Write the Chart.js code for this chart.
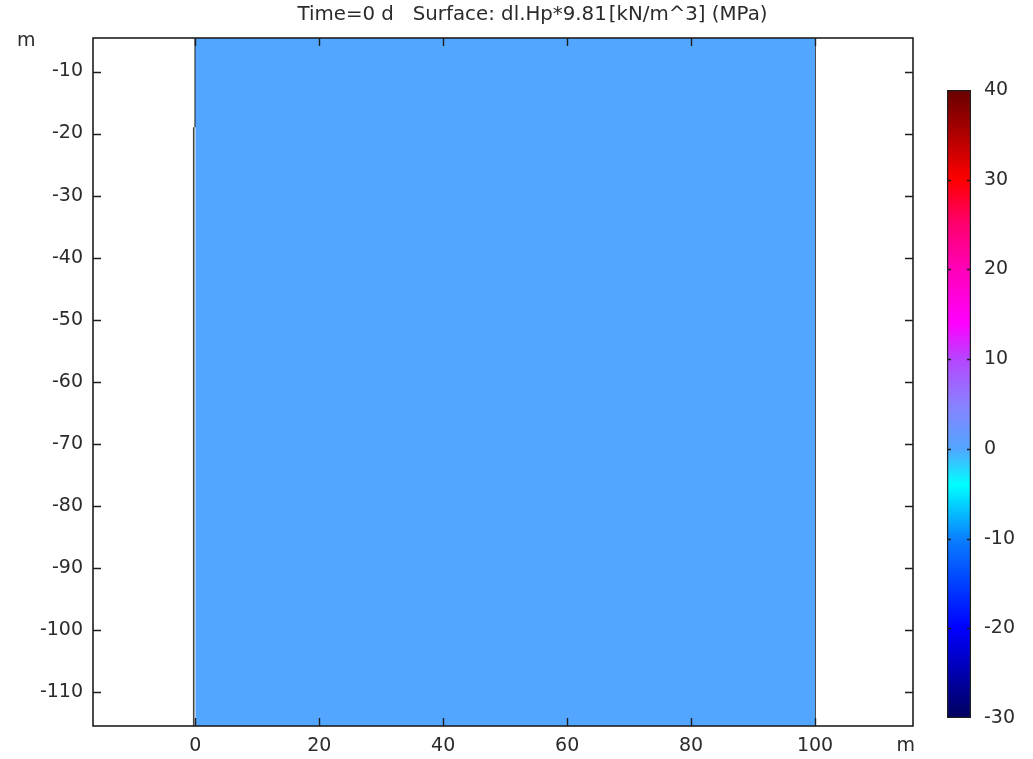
<!DOCTYPE html>
<html>
<head>
<meta charset="utf-8">
<script src="https://cdn.jsdelivr.net/npm/chart.js@4/dist/chart.umd.min.js"></script>
<style>
  html, body { margin: 0; padding: 0; background: #ffffff; }
  #wrap { position: relative; width: 1033px; height: 759px; }
  canvas { position: absolute; left: 0; top: 0; }
</style>
</head>
<body>
<div id="wrap">
  <canvas id="main" width="1033" height="759"></canvas>
  <canvas id="cbar" width="1033" height="759"></canvas>
</div>
<script>
// ---------- data ----------
const titleText = "Time=0 d   Surface: dl.Hp*9.81\u200a[kN/m^3] (MPa)";
const xTicks = [0, 20, 40, 60, 80, 100];
const yTicks = [-10, -20, -30, -40, -50, -60, -70, -80, -90, -100, -110];
const xView = [-16.5, 115.8];
const yView = [-115.5, -4.6];
const domainX = [0, 100];
const domainY = [0, -120];
const wallStepY = -19;
const wallLowerX = -0.25;
const fieldValue = 0;              // uniform surface value (MPa)
const cbarTicks = [-30, -20, -10, 0, 10, 20, 30, 40];
const cbarRange = [-30, 40];
const axisUnit = "m";

// ---------- colour table (style) ----------
const cmapValues = [-30, -20, -15, -10, -4, 0, 5, 10, 14, 20, 25, 30, 35, 40];
const cmapColors = ["#00005e", "#0000ff", "#0040ff", "#0a80ff", "#00ffff", "#52a6ff", "#8a80ff",
                    "#b545ff", "#ff00ff", "#ff00b8", "#ff0070", "#ff0000", "#b00000", "#680000"];

function hexToRgb(h) { return [1,3,5].map(i => parseInt(h.substr(i,2),16)); }
function colorAt(v) {
  if (v <= cmapValues[0]) return cmapColors[0];
  for (let i = 1; i < cmapValues.length; i++) {
    if (v <= cmapValues[i]) {
      const t = (v - cmapValues[i-1]) / (cmapValues[i] - cmapValues[i-1]);
      const a = hexToRgb(cmapColors[i-1]), b = hexToRgb(cmapColors[i]);
      const c = a.map((x, k) => Math.round(x + (b[k]-x)*t));
      return `rgb(${c[0]},${c[1]},${c[2]})`;
    }
  }
  return cmapColors[cmapColors.length-1];
}

const FONT = "'DejaVu Sans', sans-serif";
const TEXT = "#2b2b2b";
const FRAME = "#1e1e1e";
const TICKFS = 19;
const TITLEFS = 19.8;

// ---------- main plot ----------
const framePlugin = {
  id: 'frameTicks',
  afterDatasetsDraw(chart) {
    const { ctx, chartArea: a, scales: { x, y } } = chart;
    ctx.save();
    ctx.strokeStyle = FRAME;
    ctx.lineWidth = 1.6;
    ctx.strokeRect(a.left, a.top, a.right - a.left, a.bottom - a.top);
    ctx.lineWidth = 1.4;
    const L = 8;
    ctx.beginPath();
    xTicks.forEach(v => {
      const px = Math.round(x.getPixelForValue(v)) + 0.5;
      ctx.moveTo(px, a.bottom); ctx.lineTo(px, a.bottom - L);
      ctx.moveTo(px, a.top); ctx.lineTo(px, a.top + L);
    });
    yTicks.forEach(v => {
      const py = Math.round(y.getPixelForValue(v)) + 0.5;
      ctx.moveTo(a.left, py); ctx.lineTo(a.left + L, py);
      ctx.moveTo(a.right, py); ctx.lineTo(a.right - L, py);
    });
    ctx.stroke();
    // unit labels
    ctx.fillStyle = TEXT;
    ctx.font = `${TICKFS}px ${FONT}`;
    ctx.textBaseline = 'middle';
    ctx.textAlign = 'right';
    ctx.fillText(axisUnit, a.right + 2, a.bottom + 20);
    ctx.textAlign = 'left';
    ctx.fillText(axisUnit, 17, a.top + 3);
    // title (centred over the whole figure incl. colour bar)
    ctx.font = `${TITLEFS}px ${FONT}`;
    ctx.textAlign = 'center';
    ctx.fillText(titleText, 532.5, 14.5);
    ctx.restore();
  }
};

const fillColor = colorAt(fieldValue);

new Chart(document.getElementById('main'), {
  type: 'scatter',
  data: {
    datasets: [
      {
        type: 'line',
        data: [{x: domainX[0], y: domainY[0]}, {x: domainX[1], y: domainY[0]}],
        borderWidth: 0, pointRadius: 0,
        backgroundColor: fillColor,
        fill: { value: domainY[1] },
        clip: 0
      },
      {
        type: 'line',
        data: [{x: domainX[0], y: domainY[0]}, {x: domainX[0], y: wallStepY}],
        borderColor: '#1a1a1a', borderWidth: 1.6, pointRadius: 0, fill: false, clip: 0
      },
      {
        type: 'line',
        data: [{x: wallLowerX, y: wallStepY}, {x: wallLowerX, y: domainY[1]}],
        borderColor: '#444444', borderWidth: 1.6, pointRadius: 0, fill: false, clip: 0
      },
      {
        type: 'line',
        data: [{x: domainX[1], y: domainY[0]}, {x: domainX[1], y: domainY[1]}],
        borderColor: '#333333', borderWidth: 1.6, pointRadius: 0, fill: false, clip: 0
      }
    ]
  },
  options: {
    responsive: false,
    animation: false,
    devicePixelRatio: 1,
    layout: { padding: { left: 0, right: 120, top: 38, bottom: 0 } },
    plugins: {
      legend: { display: false },
      tooltip: { enabled: false },
      title: { display: false }
    },
    scales: {
      x: {
        type: 'linear', min: xView[0], max: xView[1],
        grid: { display: false, drawTicks: false },
        border: { display: false },
        afterBuildTicks: s => { s.ticks = xTicks.map(v => ({ value: v })); },
        afterFit: s => { s.height = 33; },
        ticks: { color: TEXT, font: { family: FONT, size: TICKFS }, padding: 9, maxRotation: 0 }
      },
      y: {
        type: 'linear', min: yView[0], max: yView[1],
        grid: { display: false, drawTicks: false },
        border: { display: false },
        afterBuildTicks: s => { s.ticks = yTicks.map(v => ({ value: v })); },
        afterFit: s => { s.width = 93; },
        ticks: { color: TEXT, font: { family: FONT, size: TICKFS }, padding: 10 }
      }
    }
  },
  plugins: [framePlugin]
});

// ---------- colour bar ----------
const cbarTickPlugin = {
  id: 'cbarTicks',
  afterDatasetsDraw(chart) {
    const { ctx, chartArea: a, scales: { y } } = chart;
    ctx.save();
    ctx.strokeStyle = FRAME;
    ctx.lineWidth = 1.4;
    ctx.beginPath();
    cbarTicks.slice(1, -1).forEach(v => {
      const py = Math.round(y.getPixelForValue(v)) + 0.5;
      ctx.moveTo(a.left, py); ctx.lineTo(a.left + 4, py);
      ctx.moveTo(a.right, py); ctx.lineTo(a.right - 4, py);
    });
    ctx.stroke();
    ctx.restore();
  }
};

new Chart(document.getElementById('cbar'), {
  type: 'bar',
  data: {
    labels: [''],
    datasets: [{
      data: [cbarRange],
      backgroundColor: (c) => {
        const ch = c.chart;
        if (!ch.chartArea) return fillColor;
        const y = ch.scales.y;
        const p0 = y.getPixelForValue(cbarRange[0]), p1 = y.getPixelForValue(cbarRange[1]);
        const g = ch.ctx.createLinearGradient(0, p0, 0, p1);
        cmapValues.forEach((v, i) => g.addColorStop((v - cbarRange[0]) / (cbarRange[1] - cbarRange[0]), cmapColors[i]));
        return g;
      },
      borderColor: FRAME, borderWidth: 1.6, borderSkipped: false,
      barPercentage: 1, categoryPercentage: 1
    }]
  },
  options: {
    responsive: false,
    animation: false,
    devicePixelRatio: 1,
    layout: { padding: { left: 947, right: 0, top: 90, bottom: 41 } },
    plugins: { legend: { display: false }, tooltip: { enabled: false }, title: { display: false } },
    scales: {
      x: { display: false },
      y: {
        position: 'right', min: cbarRange[0], max: cbarRange[1],
        grid: { display: false, drawTicks: false },
        border: { display: false },
        afterBuildTicks: s => { s.ticks = cbarTicks.map(v => ({ value: v })); },
        afterFit: s => { s.width = 62; },
        ticks: { color: TEXT, font: { family: FONT, size: TICKFS }, padding: 13 }
      }
    }
  },
  plugins: [cbarTickPlugin]
});
</script>
</body>
</html>
